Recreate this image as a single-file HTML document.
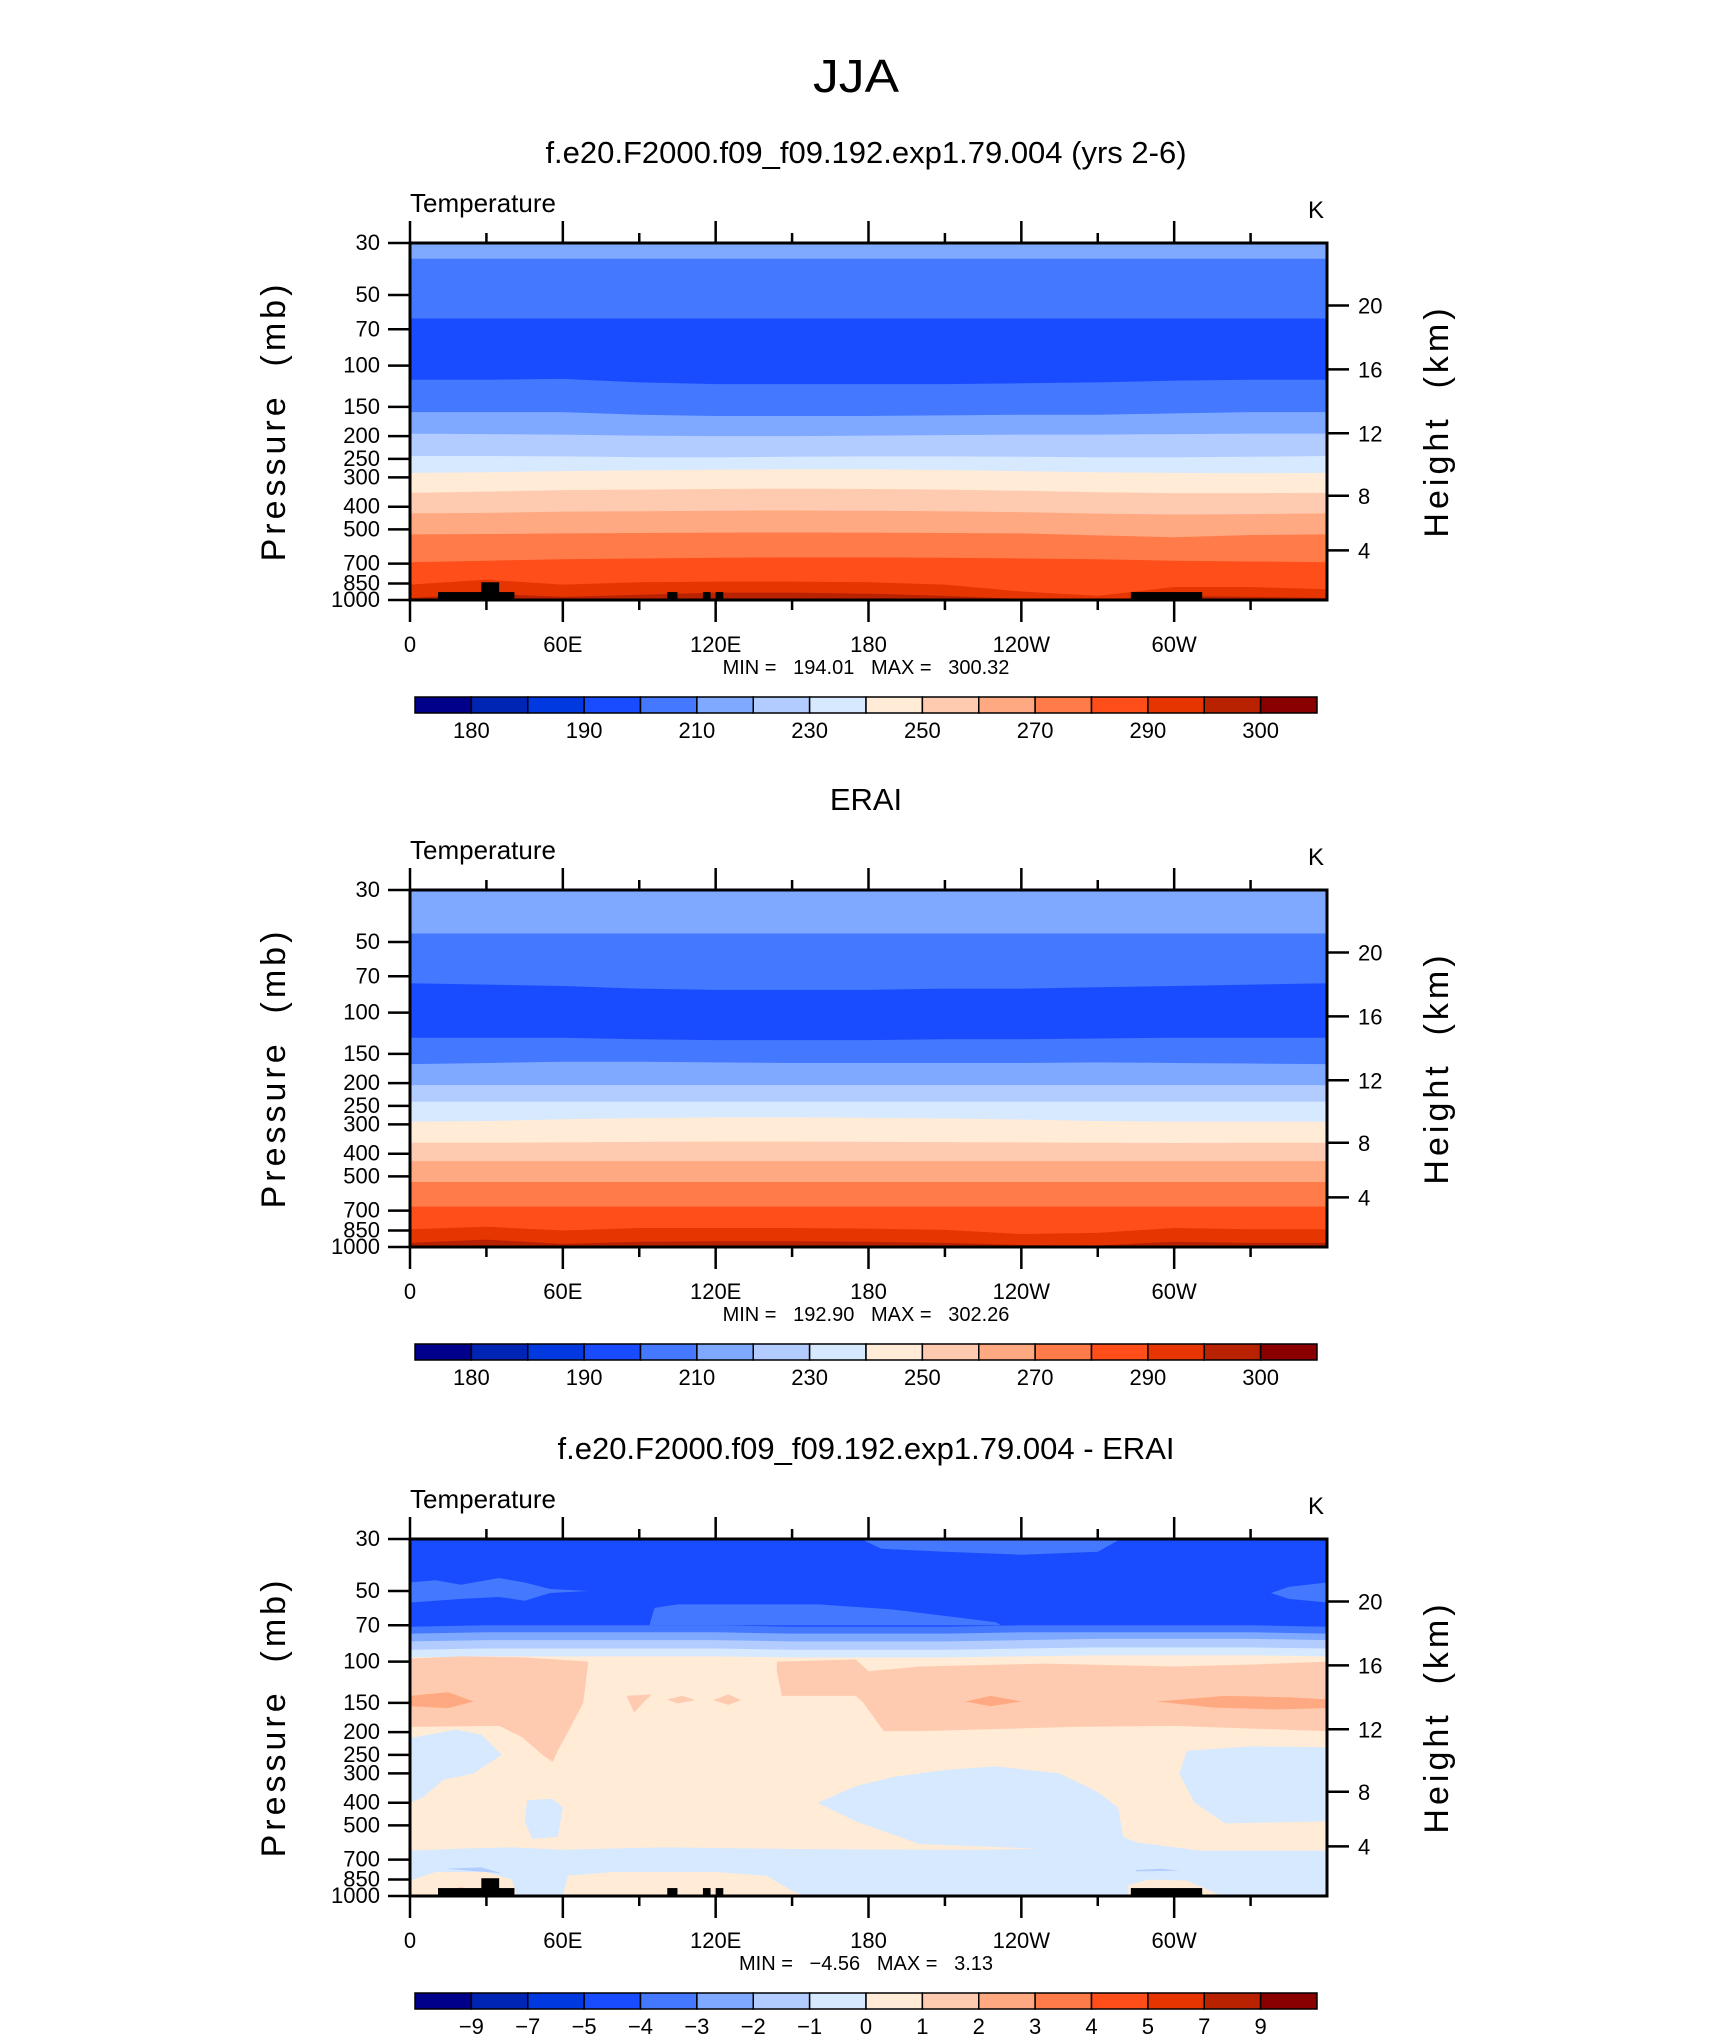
<!DOCTYPE html>
<html><head><meta charset="utf-8"><style>
html,body{margin:0;padding:0;background:#fff;}
svg{display:block;font-family:"Liberation Sans",sans-serif;}
</style></head><body>
<svg id="fig" width="1710" height="2038" viewBox="0 0 1710 2038" xmlns="http://www.w3.org/2000/svg">
<text x="856" y="92" font-size="46" text-anchor="middle" font-weight="300" fill="#000" textLength="86" lengthAdjust="spacingAndGlyphs">JJA</text>
</svg>
<script>
const lonGrid=[0,30,60,90,120,150,180,210,240,270,300,330,360];
const tempLevelLabels=["180","190","210","230","250","270","290","300"];
const diffLevelLabels=["-9","-7","-5","-4","-3","-2","-1","0","1","2","3","4","5","7","9"];
const palette=["#00008a","#0024b3","#0039e0","#1a4cff","#4478ff","#7fa8ff","#b3ccff","#d6e9ff","#ffebd6","#ffcbb0","#ffa982","#ff7c4a","#ff4e1a","#e63500","#b82200","#8a0000"];
const pressureTicks=[30,50,70,100,150,200,250,300,400,500,700,850,1000];
const heightTicks=[20,16,12,8,4];
const heightFrac=[0.175,0.354,0.533,0.708,0.861];
const lonTicks=[0,60,120,180,240,300];
const lonTickLabels=["0","60E","120E","180","120W","60W"];
const modelBands=[
[4,[35,35,35,35,35,35,35,35,35,35,35,35,35]],
[3,[63,63,63,63,63,63,63,63,63,63,63,63,63]],
[4,[115,115,114,118,120,120,120,120,119,118,116,115,115]],
[5,[158,158,158,162,164,164,164,163,162,162,160,158,158]],
[6,[195,196,197,199,200,200,199,198,197,197,196,195,195]],
[7,[243,243,244,246,246,245,244,244,245,246,246,245,243]],
[8,[287,285,282,280,278,277,277,279,282,285,287,288,287]],
[9,[349,345,340,338,336,335,336,338,342,347,350,350,349]],
[10,[427,425,420,418,416,415,416,418,422,428,432,430,427]],
[11,[525,523,520,518,516,515,516,518,520,530,540,528,525]],
[12,[690,680,670,665,660,658,658,660,665,670,680,685,690]],
[13,[860,820,860,840,835,835,840,860,920,960,880,880,900]],
[14,[980,940,970,950,930,930,940,960,990,999,960,970,980]]];
const eraBands=[
[4,[46,46,46,46,46,46,46,46,46,46,46,46,46]],
[3,[75,76,77,79,80,80,80,79,79,78,77,76,75]],
[4,[128,128,128,130,131,131,131,130,130,129,128,128,128]],
[5,[166,164,162,162,163,164,164,164,164,163,164,165,166]],
[6,[204,204,204,204,204,204,204,204,204,204,204,204,204]],
[7,[240,240,240,240,240,240,240,240,240,240,240,240,240]],
[8,[292,290,285,282,280,280,281,283,286,290,292,292,292]],
[9,[359,359,358,356,355,355,356,357,358,359,360,359,359]],
[10,[430,430,430,430,430,430,430,430,430,430,430,430,430]],
[11,[528,528,528,528,528,528,528,528,528,528,528,528,528]],
[12,[673,673,673,673,673,673,673,673,673,673,673,673,673]],
[13,[840,820,850,830,830,830,835,845,880,870,830,840,840]],
[14,[960,930,970,950,945,945,950,960,980,985,950,960,960]]];
const diffTopBands=[
[7,[96,95,95,95,95,96,96,96,95,94,94,94,95]],
[6,[89,88,88,88,88,89,89,89,88,87,87,87,88]],
[5,[82,81,81,81,81,82,82,82,81,80,80,80,81]],
[4,[76,75,75,75,75,76,76,76,75,75,75,75,76]],
[3,[71,70,70,70,70,71,71,71,70,70,70,70,71]]];
const diffPatches=[
[4,[[177,30],[279,30],[270,34],[240,35],[210,34],[185,33]]],
[4,[[0,46],[10,45],[20,47],[35,44],[45,46],[55,49],[70,50],[55,51],[45,55],[35,53],[20,54],[10,55],[0,56]]],
[4,[[94,70],[96,59],[105,57],[160,57],[190,60],[230,68],[232,70]]],
[4,[[360,46],[345,48],[338,51],[345,54],[360,56]]],
[9,[[0,97],[20,95],[45,96],[70,100],[68,150],[62,200],[58,240],[56,268],[52,250],[44,210],[35,188],[0,190]]],
[9,[[144,100],[175,98],[180,110],[200,105],[250,102],[300,105],[330,103],[360,100],[360,198],[300,188],[260,190],[200,198],[186,198],[178,150],[175,140],[146,140],[144,110]]],
[9,[[85,140],[95,138],[92,148],[88,165]]],[9,[[101,145],[107,140],[112,146],[105,151]]],[9,[[119,146],[125,138],[130,146],[125,153]]],
[10,[[0,140],[15,135],[25,148],[15,158],[0,155]]],
[10,[[218,148],[228,140],[240,148],[228,155]]],
[10,[[293,148],[320,140],[345,142],[360,145],[360,158],[340,160],[315,157]]],
[7,[[0,212],[18,195],[28,205],[36,250],[25,300],[13,320],[5,380],[0,400]]],
[7,[[46,390],[56,385],[60,420],[58,560],[48,570],[45,480]]],
[7,[[160,400],[175,340],[190,310],[210,290],[230,280],[255,300],[270,360],[278,420],[280,560],[290,620],[250,630],[200,600],[175,480]]],
[7,[[305,240],[330,230],[360,232],[360,480],[320,490],[308,400],[302,300]]],
[7,[[0,640],[20,628],[40,620],[60,635],[100,620],[150,630],[220,636],[260,625],[285,590],[310,640],[360,640],[360,1000],[0,1000]]],
[8,[[0,860],[10,790],[30,790],[40,850],[42,1000],[0,1000]]],
[8,[[60,990],[62,820],[80,790],[120,790],[140,820],[150,950],[155,1000]]],
[8,[[282,900],[290,850],[305,860],[318,990],[320,1000],[282,1000]]],
[9,[[12,960],[20,915],[28,960],[26,1000],[14,1000]]],
[6,[[14,765],[28,755],[36,800],[30,790],[20,775]]],
[6,[[285,775],[295,765],[302,780],[285,785]]]];
const terrain=[[11,41,925],[28,35,840],[101,105,925],[115,118,925],[120,123,925],[283,311,925]];
const panels=[
 {top:243,title:"f.e20.F2000.f09_f09.192.exp1.79.004 (yrs 2-6)",min:"194.01",max:"300.32",kind:"temp",bands:modelBands,base:5,terrain:true,name:"model"},
 {top:890,title:"ERAI",min:"192.90",max:"302.26",kind:"temp",bands:eraBands,base:5,terrain:false,name:"erai"},
 {top:1539,title:"f.e20.F2000.f09_f09.192.exp1.79.004 - ERAI",min:"\u22124.56",max:"3.13",kind:"diff",bands:null,base:8,terrain:true,name:"diff"}];
const NS="http://www.w3.org/2000/svg";
const svg=document.getElementById('fig');
const L=410,R=1327,H=357,CBL=415,CBR=1317;
function xs(lon){return L+(R-L)*lon/360;}
function ys(T,p){return T+H*(1-Math.log(1000/p)/Math.log(1000/30));}
function mk(tag,attrs,parent){const e=document.createElementNS(NS,tag);for(const k in attrs)e.setAttribute(k,attrs[k]);(parent||svg).appendChild(e);return e;}
function txt(s,attrs,parent){const e=mk('text',attrs,parent);e.textContent=s;return e;}
const NB='\u00a0';
panels.forEach(P=>{
 const T=P.top;
 const g=mk('g',{});
 
 
 const cp=mk('clipPath',{id:'cp'+P.name},g);mk('rect',{x:L,y:T,width:R-L,height:H},cp);
 const area=mk('g',{'clip-path':'url(#cp'+P.name+')'},g);
 
 
 mk('rect',{x:L,y:T,width:R-L,height:H,fill:palette[P.base]},area);
 if(P.kind==='temp'){
  P.bands.forEach(b=>{
   let d='M'+xs(0)+','+(T+H+2);
   lonGrid.forEach((lo,i)=>{d+=' L'+xs(lo)+','+ys(T,b[1][i]);});
   d+=' L'+xs(360)+','+(T+H+2)+' Z';
   const pth=mk('path',{d:d,fill:palette[b[0]]},area);
   
   
  });
 } else {
  diffTopBands.forEach(b=>{
   let d='M'+xs(0)+','+(T-2);
   lonGrid.forEach((lo,i)=>{d+=' L'+xs(lo)+','+ys(T,b[1][i]);});
   d+=' L'+xs(360)+','+(T-2)+' Z';
   const pth=mk('path',{d:d,fill:palette[b[0]]},area);
   
   
  });
  diffPatches.forEach(pa=>{
   const pts=pa[1].map(q=>xs(q[0])+','+ys(T,q[1])).join(' ');
   const pg=mk('polygon',{points:pts,fill:palette[pa[0]]},area);
   
   
  });
 }
 if(P.terrain){terrain.forEach(t=>{
   const r=mk('rect',{x:xs(t[0]),y:ys(T,t[2]),width:xs(t[1])-xs(t[0]),height:T+H-ys(T,t[2]),fill:'#000'},area);
   
   
 });}
 const fr=mk('rect',{x:L,y:T,width:R-L,height:H,fill:'none',stroke:'#000','stroke-width':3},g);
 
 
 for(let lo=0;lo<=330;lo+=30){
  const maj=lo%60===0;const len=maj?22:10;
  mk('line',{x1:xs(lo),x2:xs(lo),y1:T,y2:T-len,stroke:'#000','stroke-width':2.5},g);
  mk('line',{x1:xs(lo),x2:xs(lo),y1:T+H,y2:T+H+len,stroke:'#000','stroke-width':2.5},g);
 }
 lonTicks.forEach((lo,i)=>{
  const t=txt(lonTickLabels[i],{x:xs(lo),y:T+H+52,'font-size':22,'text-anchor':'middle'},g);
  
  
 });
 pressureTicks.forEach(p=>{
  const y=ys(T,p);
  mk('line',{x1:L-22,x2:L,y1:y,y2:y,stroke:'#000','stroke-width':2.5},g);
  const t=txt(String(p),{x:L-30,y:y+7,'font-size':22,'text-anchor':'end'},g);
  
  
 });
 heightTicks.forEach((h,i)=>{
  const y=T+H*heightFrac[i];
  mk('line',{x1:R,x2:R+22,y1:y,y2:y,stroke:'#000','stroke-width':2.5},g);
  const t=txt(String(h),{x:R+31,y:y+8,'font-size':22},g);
  
  
 });
 const st=txt(P.title,{x:866,y:T-80,'font-size':31,'text-anchor':'middle'},g);
 
 
 const tl=txt('Temperature',{x:L,y:T-31,'font-size':26},g);
 
 
 const ku=txt('K',{x:1316,y:T-25,'font-size':24,'text-anchor':'middle'},g);
 
 
 const yl=txt('Pressure'+NB+NB+'(mb)',{x:0,y:0,'font-size':34,'text-anchor':'middle','letter-spacing':4,transform:'translate(285,'+(T+178)+') rotate(-90)'},g);
 
 
 const hl=txt('Height'+NB+NB+'(km)',{x:0,y:0,'font-size':34,'text-anchor':'middle','letter-spacing':4,transform:'translate(1448,'+(T+178)+') rotate(-90)'},g);
 
 
 const mm=txt('MIN'+NB+'='+NB+NB+NB+P.min+NB+NB+NB+'MAX'+NB+'='+NB+NB+NB+P.max,{x:866,y:T+431,'font-size':20,'text-anchor':'middle'},g);
 
 
 const cb=mk('g',{},g);
 
 
 const bw=(CBR-CBL)/16;
 palette.forEach((c,i)=>{
  const r=mk('rect',{x:CBL+i*bw,y:T+454,width:bw,height:16,fill:c,stroke:'#000','stroke-width':1.5},cb);
  
  
 });
 if(P.kind==='temp'){
  tempLevelLabels.forEach((s,i)=>{
   const t=txt(s,{x:CBL+(2*i+1)*bw,y:T+495,'font-size':22,'text-anchor':'middle'},cb);
   
   
  });
 } else {
  diffLevelLabels.forEach((s,i)=>{
   const t=txt(s.replace('-','\u2212'),{x:CBL+(i+1)*bw,y:T+495,'font-size':22,'text-anchor':'middle'},cb);
   
   
  });
 }
});
</script>
</body></html>
